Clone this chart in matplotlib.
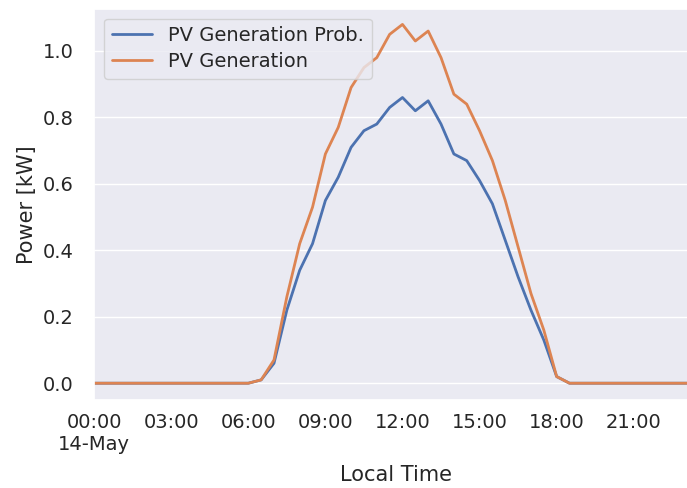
import numpy as np
import pandas as pd
import matplotlib
matplotlib.use('Agg')
import matplotlib.pyplot as plt
import matplotlib.dates as mdates
import seaborn as sns

# half-hourly PV output for one day [kW]
pv_prob = [0.0] * 13 + [
    0.01, 0.06, 0.22, 0.34, 0.42, 0.55, 0.62, 0.71, 0.76, 0.78, 0.83, 0.86,
    0.82, 0.85, 0.78, 0.69, 0.67, 0.61, 0.54, 0.43, 0.32, 0.22, 0.13, 0.02,
] + [0.0] * 11
pv_gen = [0.0] * 13 + [
    0.01, 0.07, 0.26, 0.42, 0.53, 0.69, 0.77, 0.89, 0.95, 0.98, 1.05, 1.08,
    1.03, 1.06, 0.98, 0.87, 0.84, 0.76, 0.67, 0.55, 0.41, 0.27, 0.16, 0.02,
] + [0.0] * 11

times = pd.date_range('2021-05-14 00:00', periods=48, freq='30min')

sns.set_theme()

fig = plt.figure(figsize=(6.87, 4.88), dpi=100)
ax = fig.add_axes([0.137, 0.18, 0.879, 0.802])

ax.plot(times, pv_prob, color='#4c72b0', lw=2, label='PV Generation Prob.')
ax.plot(times, pv_gen, color='#dd8452', lw=2, label='PV Generation')

ax.set_xlim(times[0], times[-1])
ax.set_ylim(-0.051, 1.127)
ax.set_yticks([0.0, 0.2, 0.4, 0.6, 0.8, 1.0])

ax.xaxis.set_major_locator(mdates.HourLocator(interval=3))


def fmt_time(x, pos):
    d = mdates.num2date(x)
    if d.hour == 0 and d.minute == 0:
        return d.strftime('%H:%M\n%d-%b')
    return d.strftime('%H:%M')


ax.xaxis.set_major_formatter(plt.FuncFormatter(fmt_time))
ax.grid(axis='x', visible=False)

ax.set_xlabel('Local Time', fontsize=15, labelpad=8)
ax.set_ylabel('Power [kW]', fontsize=15)
ax.tick_params(labelsize=14)
ax.tick_params(axis='y', pad=9)
ax.legend(loc='upper left', fontsize=14, handlelength=2.1,
          borderaxespad=0.5, labelspacing=0.35)

fig.savefig('out.png', dpi=100)
